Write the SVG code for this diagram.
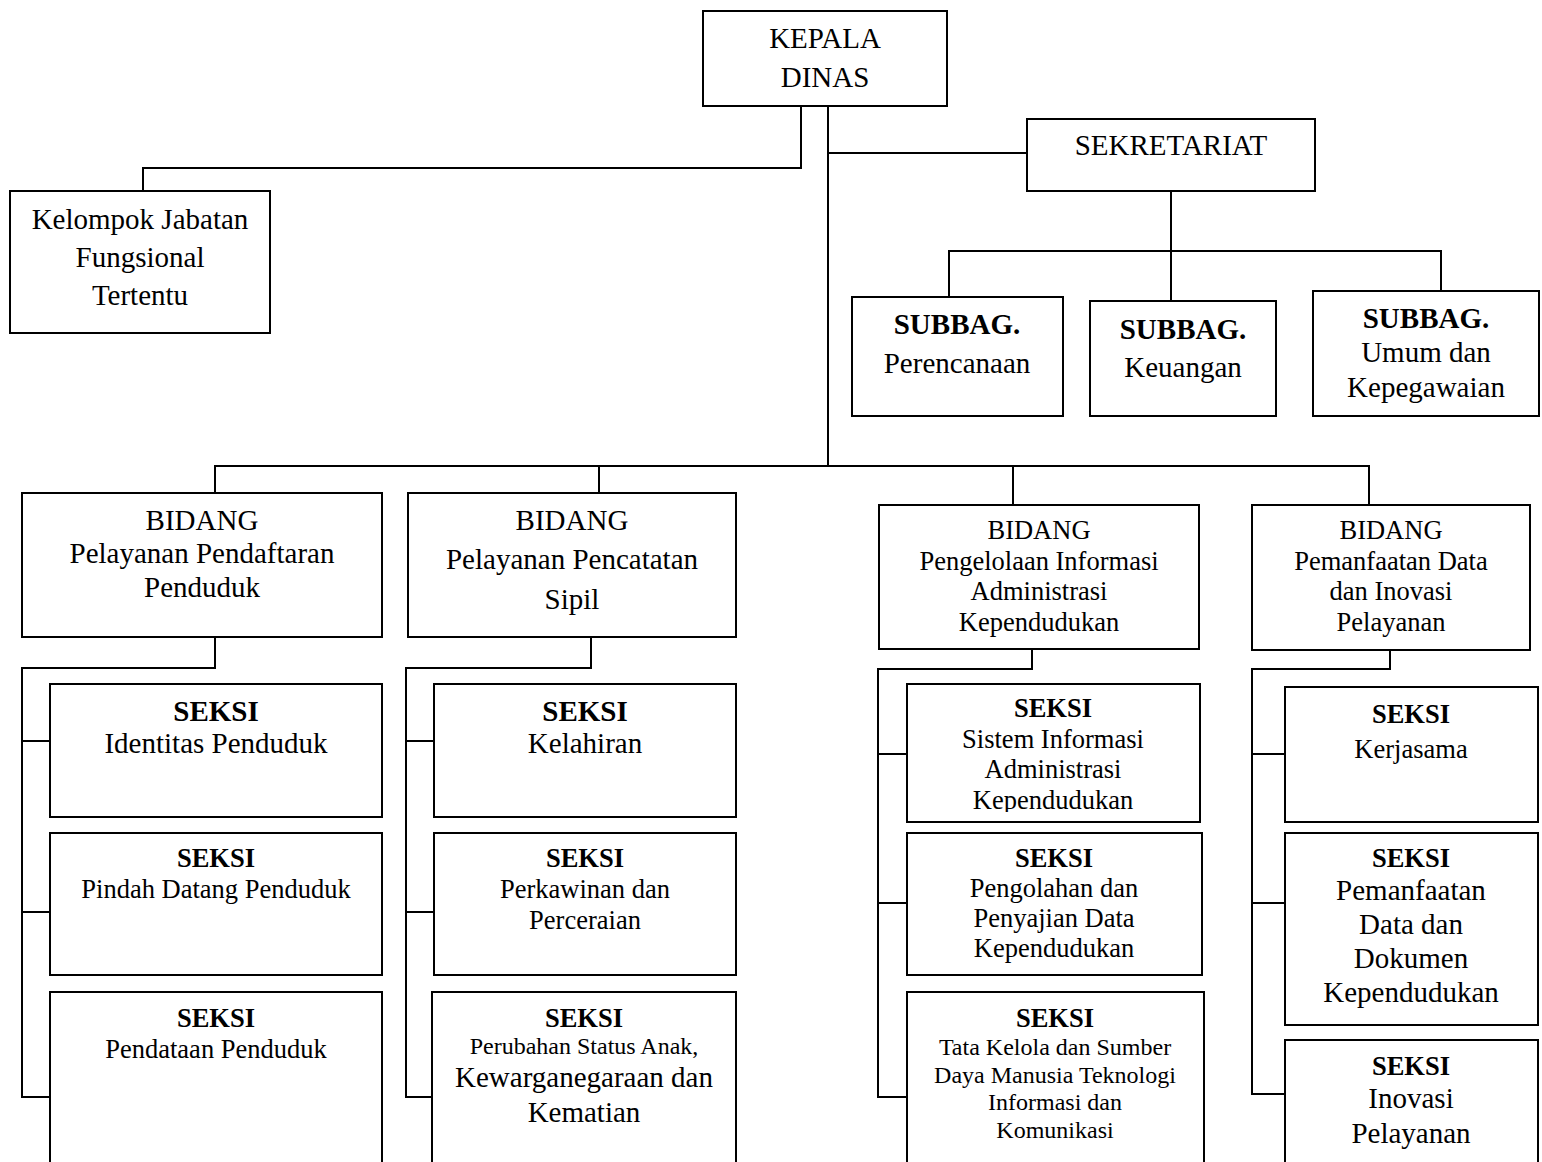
<svg xmlns="http://www.w3.org/2000/svg" width="1542" height="1162" viewBox="0 0 1542 1162">
<defs>
<style>
.box{fill:#fff;stroke:#000;stroke-width:2}
.ln{fill:none;stroke:#000;stroke-width:2}
text{font-family:"Liberation Serif","Times New Roman",serif;fill:#000;text-anchor:middle}
.t29{font-size:29px}
.t26{font-size:26.5px}
.t24{font-size:24px}
.b{font-weight:bold}
</style>
<clipPath id="clip31"><rect x="900" y="680" width="310" height="132"/></clipPath>
</defs>
<rect width="1542" height="1162" fill="#fff"/>
<g id="connectors">
<polyline class="ln" points="801,106 801,168 143,168 143,191"/>
<line class="ln" x1="828" y1="106" x2="828" y2="466"/>
<line class="ln" x1="828" y1="153" x2="1027" y2="153"/>
<line class="ln" x1="1171" y1="191" x2="1171" y2="301"/>
<polyline class="ln" points="949,296 949,251 1441,251 1441,291"/>
<polyline class="ln" points="215,493 215,466 1369,466 1369,505"/>
<line class="ln" x1="599" y1="466" x2="599" y2="493"/>
<line class="ln" x1="1013" y1="466" x2="1013" y2="505"/>
<polyline class="ln" points="215,637 215,668 22,668 22,1097 50,1097"/>
<line class="ln" x1="22" y1="741" x2="50" y2="741"/>
<line class="ln" x1="22" y1="912" x2="50" y2="912"/>
<polyline class="ln" points="591,637 591,668 406,668 406,1097 433,1097"/>
<line class="ln" x1="406" y1="741" x2="434" y2="741"/>
<line class="ln" x1="406" y1="912" x2="434" y2="912"/>
<polyline class="ln" points="1032,649 1032,669 878,669 878,1097 907,1097"/>
<line class="ln" x1="878" y1="754" x2="907" y2="754"/>
<line class="ln" x1="878" y1="903" x2="907" y2="903"/>
<polyline class="ln" points="1390,650 1390,669 1252,669 1252,1094 1285,1094"/>
<line class="ln" x1="1252" y1="754" x2="1285" y2="754"/>
<line class="ln" x1="1252" y1="903" x2="1285" y2="903"/>
</g>
<g id="kepala-dinas">
<rect class="box" x="703" y="11" width="244" height="95"/>
<text class="t29" x="825" y="48">KEPALA</text>
<text class="t29" x="825" y="87">DINAS</text>
</g>
<g id="kelompok-jabatan">
<rect class="box" x="10" y="191" width="260" height="142"/>
<text class="t29" x="140" y="229">Kelompok Jabatan</text>
<text class="t29" x="140" y="267">Fungsional</text>
<text class="t29" x="140" y="305">Tertentu</text>
</g>
<g id="sekretariat">
<rect class="box" x="1027" y="119" width="288" height="72"/>
<text class="t29" x="1171" y="155">SEKRETARIAT</text>
</g>
<g id="subbag-perencanaan">
<rect class="box" x="852" y="297" width="211" height="119"/>
<text class="t29 b" x="957" y="334">SUBBAG.</text>
<text class="t29" x="957" y="373">Perencanaan</text>
</g>
<g id="subbag-keuangan">
<rect class="box" x="1090" y="301" width="186" height="115"/>
<text class="t29 b" x="1183" y="339">SUBBAG.</text>
<text class="t29" x="1183" y="377">Keuangan</text>
</g>
<g id="subbag-umum">
<rect class="box" x="1313" y="291" width="226" height="125"/>
<text class="t29 b" x="1426" y="328">SUBBAG.</text>
<text class="t29" x="1426" y="362">Umum dan</text>
<text class="t29" x="1426" y="397">Kepegawaian</text>
</g>
<g id="bidang-pendaftaran">
<rect class="box" x="22" y="493" width="360" height="144"/>
<text class="t29" x="202" y="530">BIDANG</text>
<text class="t29" x="202" y="563">Pelayanan Pendaftaran</text>
<text class="t29" x="202" y="597">Penduduk</text>
</g>
<g id="bidang-pencatatan">
<rect class="box" x="408" y="493" width="328" height="144"/>
<text class="t29" x="572" y="530">BIDANG</text>
<text class="t29" x="572" y="569">Pelayanan Pencatatan</text>
<text class="t29" x="572" y="609">Sipil</text>
</g>
<g id="bidang-pengelolaan">
<rect class="box" x="879" y="505" width="320" height="144"/>
<text class="t26" x="1039" y="539">BIDANG</text>
<text class="t26" x="1039" y="570">Pengelolaan Informasi</text>
<text class="t26" x="1039" y="600">Administrasi</text>
<text class="t26" x="1039" y="631">Kependudukan</text>
</g>
<g id="bidang-pemanfaatan">
<rect class="box" x="1252" y="505" width="278" height="145"/>
<text class="t26" x="1391" y="539">BIDANG</text>
<text class="t26" x="1391" y="570">Pemanfaatan Data</text>
<text class="t26" x="1391" y="600">dan Inovasi</text>
<text class="t26" x="1391" y="631">Pelayanan</text>
</g>
<g id="seksi-identitas">
<rect class="box" x="50" y="684" width="332" height="133"/>
<text class="t29 b" x="216" y="721">SEKSI</text>
<text class="t29" x="216" y="753">Identitas Penduduk</text>
</g>
<g id="seksi-pindah">
<rect class="box" x="50" y="833" width="332" height="142"/>
<text class="t26 b" x="216" y="867">SEKSI</text>
<text class="t26" x="216" y="898">Pindah Datang Penduduk</text>
</g>
<g id="seksi-pendataan">
<rect class="box" x="50" y="992" width="332" height="200"/>
<text class="t26 b" x="216" y="1027">SEKSI</text>
<text class="t26" x="216" y="1058">Pendataan Penduduk</text>
</g>
<g id="seksi-kelahiran">
<rect class="box" x="434" y="684" width="302" height="133"/>
<text class="t29 b" x="585" y="721">SEKSI</text>
<text class="t29" x="585" y="753">Kelahiran</text>
</g>
<g id="seksi-perkawinan">
<rect class="box" x="434" y="833" width="302" height="142"/>
<text class="t26 b" x="585" y="867">SEKSI</text>
<text class="t26" x="585" y="898">Perkawinan dan</text>
<text class="t26" x="585" y="929">Perceraian</text>
</g>
<g id="seksi-perubahan-status">
<rect class="box" x="432" y="992" width="304" height="200"/>
<text class="t26 b" x="584" y="1027">SEKSI</text>
<text class="t24" x="584" y="1054">Perubahan Status Anak,</text>
<text class="t29" x="584" y="1087">Kewarganegaraan dan</text>
<text class="t29" x="584" y="1122">Kematian</text>
</g>
<g id="seksi-sistem-informasi">
<rect class="box" x="907" y="684" width="293" height="138"/>
<text class="t26 b" x="1053" y="717">SEKSI</text>
<text class="t26" x="1053" y="748">Sistem Informasi</text>
<text class="t26" x="1053" y="778">Administrasi</text>
<text class="t26" x="1053" y="809" clip-path="url(#clip31)">Kependudukan</text>
</g>
<g id="seksi-pengolahan">
<rect class="box" x="907" y="833" width="295" height="142"/>
<text class="t26 b" x="1054" y="867">SEKSI</text>
<text class="t26" x="1054" y="897">Pengolahan dan</text>
<text class="t26" x="1054" y="927">Penyajian Data</text>
<text class="t26" x="1054" y="957">Kependudukan</text>
</g>
<g id="seksi-tata-kelola">
<rect class="box" x="907" y="992" width="297" height="200"/>
<text class="t26 b" x="1055" y="1027">SEKSI</text>
<text class="t24" x="1055" y="1055">Tata Kelola dan Sumber</text>
<text class="t24" x="1055" y="1083">Daya Manusia Teknologi</text>
<text class="t24" x="1055" y="1110">Informasi dan</text>
<text class="t24" x="1055" y="1138">Komunikasi</text>
</g>
<g id="seksi-kerjasama">
<rect class="box" x="1285" y="687" width="253" height="135"/>
<text class="t26 b" x="1411" y="723">SEKSI</text>
<text class="t26" x="1411" y="758">Kerjasama</text>
</g>
<g id="seksi-pemanfaatan">
<rect class="box" x="1285" y="833" width="253" height="192"/>
<text class="t26 b" x="1411" y="867">SEKSI</text>
<text class="t29" x="1411" y="900">Pemanfaatan</text>
<text class="t29" x="1411" y="934">Data dan</text>
<text class="t29" x="1411" y="968">Dokumen</text>
<text class="t29" x="1411" y="1002">Kependudukan</text>
</g>
<g id="seksi-inovasi">
<rect class="box" x="1285" y="1040" width="253" height="160"/>
<text class="t26 b" x="1411" y="1075">SEKSI</text>
<text class="t29" x="1411" y="1108">Inovasi</text>
<text class="t29" x="1411" y="1143">Pelayanan</text>
</g>
</svg>
